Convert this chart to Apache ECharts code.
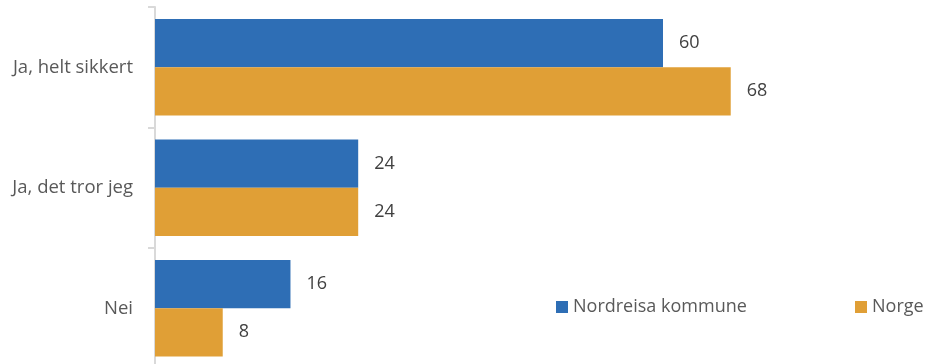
<!DOCTYPE html>
<html><head><meta charset="utf-8">
<script src="https://cdn.jsdelivr.net/npm/echarts@6/dist/echarts.min.js"></script>
<style>html,body{margin:0;padding:0;background:#fff}#c{width:928px;height:364px}</style>
</head><body><div id="c"></div>
<script>
const categories = ["Ja, helt sikkert", "Ja, det tror jeg", "Nei"];
const nordreisa = [60, 24, 16];
const norge = [68, 24, 8];
const seriesNames = ["Nordreisa kommune", "Norge"];

const chart = echarts.init(document.getElementById('c'), null, {renderer: 'canvas'});
const font = '"Open Sans", sans-serif';
const lbl = {show: true, position: 'right', distance: 16, color: '#404040', fontSize: 18, fontFamily: font};
chart.setOption({
  animation: false,
  grid: {left: 155, width: 762, top: 7, height: 361.5, containLabel: false, outerBoundsMode: 'none'},
  legend: [
    {data: [seriesNames[0]], left: 551, top: 293, itemWidth: 12, itemHeight: 12, itemGap: 0,
     textStyle: {fontSize: 18, color: '#595959', fontFamily: font, padding: [0,0,0,0]}, icon: 'rect'},
    {data: [seriesNames[1]], left: 850, top: 293, itemWidth: 12, itemHeight: 12, itemGap: 0,
     textStyle: {fontSize: 18, color: '#595959', fontFamily: font, padding: [0,0,0,0]}, icon: 'rect'}
  ],
  xAxis: {type: 'value', min: 0, max: 90, show: false},
  yAxis: {type: 'category', data: categories, inverse: true,
    axisLine: {show: true, lineStyle: {color: '#d9d9d9', width: 2}},
    axisTick: {show: true, length: 7, lineStyle: {color: '#d9d9d9', width: 2}},
    axisLabel: {fontSize: 18.5, color: '#595959', fontFamily: font, margin: 22},
    splitLine: {show: false}},
  series: [
    {name: seriesNames[0], type: 'bar', data: nordreisa, barGap: '0%', barCategoryGap: '20%',
     itemStyle: {color: '#2E6EB5'}, label: lbl},
    {name: seriesNames[1], type: 'bar', data: norge, barGap: '0%', barCategoryGap: '20%',
     itemStyle: {color: '#E09F36'}, label: lbl}
  ]
});
</script></body></html>
